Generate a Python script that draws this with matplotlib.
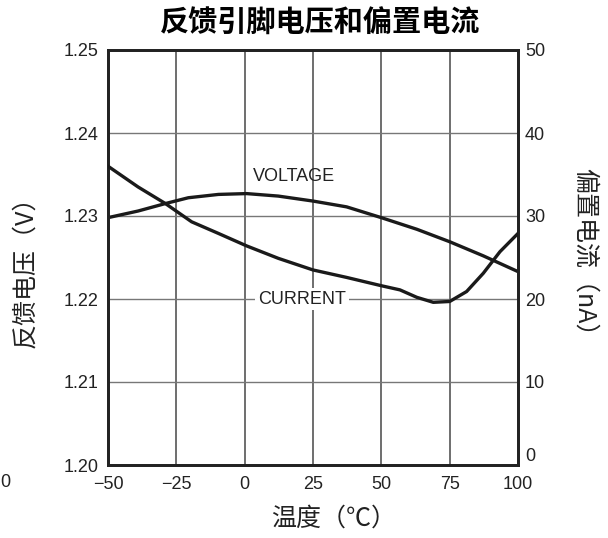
import numpy as np
import matplotlib
matplotlib.use("Agg")
import matplotlib.pyplot as plt

plt.rcParams['font.family'] = ['Liberation Sans', 'DejaVu Sans']
cjk = ['Noto Sans CJK SC', 'DejaVu Sans']

# temperature (C) vs feedback voltage (V)
temp_v = [-50, -39, -29, -20.6, -9.6, 0.7, 12.3, 25, 37.3, 50, 63, 75, 87.3, 100]
voltage = [1.2298, 1.2306, 1.2315, 1.2322, 1.2326, 1.2327, 1.2324, 1.2318, 1.2311,
           1.2298, 1.2284, 1.2269, 1.2252, 1.2233]

# temperature (C) vs bias current (nA)
temp_i = [-50, -39, -29, -19.4, -9.6, 0.7, 12.3, 25, 37.3, 50, 56.8, 63, 69, 75,
          81.2, 87.3, 93.4, 100]
current = [36.0, 33.5, 31.5, 29.3, 27.9, 26.4, 24.9, 23.5, 22.6, 21.6, 21.1, 20.2,
           19.6, 19.7, 20.9, 23.1, 25.7, 27.9]

xticks = [-50, -25, 0, 25, 50, 75, 100]
vticks = [1.20, 1.21, 1.22, 1.23, 1.24, 1.25]
iticks = [0, 10, 20, 30, 40, 50]

fig = plt.figure(figsize=(6.08, 5.38), dpi=100)
ax = fig.add_axes([108/608, 1-465/538, 410/608, 415/538])
ax2 = ax.twinx()

for x in xticks[1:-1]:
    ax.axvline(x, color='#555555', lw=1.2, zorder=1)
for v in vticks[1:-1]:
    ax.axhline(v, color='#777777', lw=1.0, zorder=1)

ax.plot(temp_v, voltage, color='#1a1a1a', lw=2.4, zorder=3, solid_joinstyle='round')
ax2.plot(temp_i, current, color='#1a1a1a', lw=2.4, zorder=3, solid_joinstyle='round')

ax.set_xlim(-50, 100)
ax.set_ylim(1.20, 1.25)
ax2.set_ylim(0, 50)
ax.set_xticks(xticks)
ax.set_xticklabels(['\u221250', '\u221225', '0', '25', '50', '75', '100'])
ax.set_yticks(vticks)
ax.set_yticklabels(['%.2f' % v for v in vticks])
ax2.set_yticks(iticks)
ax.tick_params(length=0, labelsize=13, pad=7, colors='#222222')
ax2.tick_params(length=0, labelsize=13, pad=5, colors='#222222')
ax.tick_params(axis='x', pad=8)
ax2.get_yticklabels()[0].set_va('bottom')
for s in list(ax.spines.values()) + list(ax2.spines.values()):
    s.set_linewidth(2)
    s.set_color('#222222')

ax.text(18, 1.2347, 'VOLTAGE', ha='center', va='center', fontsize=13, color='#222222', zorder=4)
ax2.text(21, 20.0, 'CURRENT', ha='center', va='center', fontsize=13, color='#222222', zorder=4,
         bbox=dict(facecolor='white', edgecolor='none', pad=2))

fig.text(0.527, 0.958, '反馈引脚电压和偏置电流', ha='center', va='center', fontsize=21,
         fontweight='bold', family=cjk)
fig.text(0.548, 0.037, '温度（℃）', ha='center', va='center', fontsize=18, family=cjk, color='#222222')
fig.text(0.042, 0.505, '反馈电压（V）', ha='center', va='center', rotation=90, fontsize=18,
         family=cjk, color='#222222')
fig.text(0.962, 0.52, '偏置电流（nA）', ha='center', va='center', rotation=-90, fontsize=18,
         family=cjk, color='#222222')
fig.text(0.0, 0.103, '0', ha='left', va='center', fontsize=13, color='#222222')

fig.savefig('out.png', dpi=100)
